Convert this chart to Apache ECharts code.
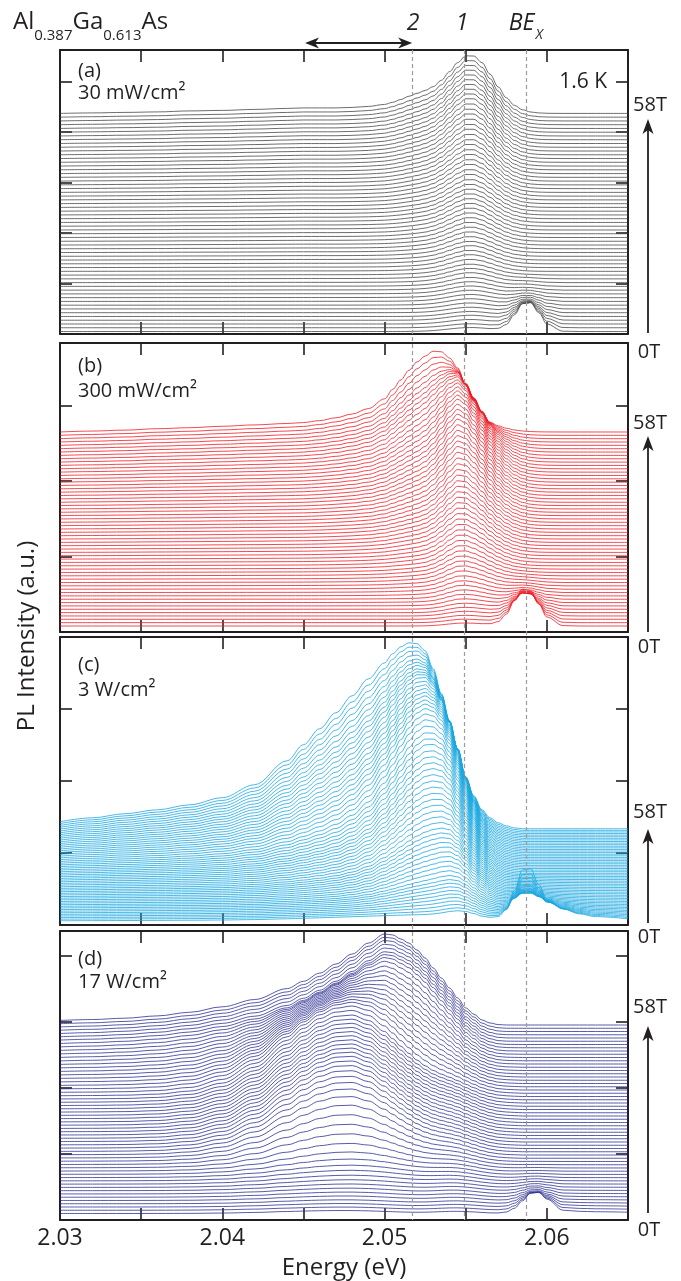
<!DOCTYPE html>
<html><head><meta charset="utf-8">
<script src="https://cdn.jsdelivr.net/npm/echarts@6/dist/echarts.min.js"></script>
<style>html,body{margin:0;padding:0;background:#fff}#c{width:681px;height:1281px}</style>
</head><body><div id="c"></div>
<script>
// ---------------- DATA ----------------
const energyEV = [2.030,2.032,2.034,2.036,2.038,2.040,2.042,2.044,2.045,2.046,2.047,2.048,2.049,2.050,2.0505,2.051,2.0515,2.052,2.0525,2.053,2.0535,2.054,2.0545,2.055,2.0555,2.056,2.0565,2.057,2.0575,2.058,2.0585,2.059,2.0595,2.060,2.061,2.062,2.063,2.065];
const fieldsT = [0,1,2,3,4,5,6,7,8,9,10,11,12,13,14,15,16,17,18,19,20,21,22,23,24,25,26,27,28,29,30,31,32,33,34,35,36,37,38,39,40,41,42,43,44,45,46,47,48,49,50,51,52,53,54,55,56,57,58];
const energyTickLabels = ['2.03','2.04','2.05','2.06'];
const lineMarksEV = [2.0517, 2.0549, 2.0587];

// (a) 30 mW/cm2 : line shapes on energyEV and their amplitude at each field
const aPeak1Shape = [0,0,0,0,0,0,0,0,0,0,0,0,0,0,0.002,0.007,0.02,0.053,0.12,0.238,0.416,0.633,0.841,0.976,0.989,0.876,0.677,0.457,0.27,0.139,0.0625,0.025,0.0085,0.0025,0,0,0,0];
const aShoulderShape = [0,0.5,1,1.5,2.5,3,4,5,5.5,5.5,5.5,6,7,9,11,13.5,16,17,16,13,9,5,2,1,0,0,0,0,0,0,0,0,0,0,0,0,0,0];
const aBexShape = [0,0,0,0,0,0,0,0,0,0,0,0,0,0,0,0,0,0,0,0,0,0,0,0,0,0,0.006,0.045,0.197,0.54,0.918,0.962,0.626,0.25,0.01,0,0,0];
const aPeak1Amp = [4,4,4.5,5,5,5.5,6,6.5,7,7.5,8,8.5,9,10,10.5,11,12,13,13.5,14.5,15,16,17,18,19,20,21,22,23,24,25,26,27,28,29.5,30.5,32,33,34.5,35.5,37,38,39.5,41,42,43.5,45,46,47.5,49,50,51,52,53,54,55,56,57,58];
const aShoulderAmp = [0,0,0,0,0,0.005,0.01,0.015,0.02,0.025,0.03,0.04,0.045,0.05,0.06,0.07,0.08,0.09,0.1,0.11,0.125,0.14,0.15,0.16,0.175,0.19,0.2,0.22,0.235,0.25,0.27,0.285,0.3,0.32,0.34,0.36,0.38,0.4,0.42,0.44,0.46,0.48,0.5,0.525,0.55,0.575,0.6,0.625,0.65,0.675,0.7,0.73,0.76,0.79,0.82,0.86,0.9,0.95,1.0];
const aBexAmp = [30,26,22.5,19,15.5,12.5,10,8,6,4.5,3.5,2.5,2,1.5,1,0.5,0,0,0,0,0,0,0,0,0,0,0,0,0,0,0,0,0,0,0,0,0,0,0,0,0,0,0,0,0,0,0,0,0,0,0,0,0,0,0,0,0,0,0];

// (b) 300 mW/cm2
const bPeak1Shape = [0,0,0,0,0,0,0,0,0,0,0,0,0,0,0,0,0.004,0.017,0.0625,0.176,0.389,0.677,0.926,0.998,0.926,0.772,0.578,0.389,0.236,0.128,0.0625,0.027,0.011,0.004,0,0,0,0];
const bBroadShape = [0,0.012,0.024,0.042,0.055,0.073,0.091,0.109,0.121,0.146,0.182,0.23,0.30,0.425,0.546,0.667,0.79,0.894,0.96,1.0,0.948,0.81,0.632,0.40,0.21,0.092,0.007,0,0,0,0,0,0,0,0,0,0,0];
const bBexShape = [0,0,0,0,0,0,0,0,0,0,0,0,0,0,0,0,0,0,0,0,0,0,0,0,0,0,0.016,0.085,0.29,0.657,0.966,0.926,0.578,0.236,0.011,0,0,0];
const bPeak1Amp = [3,3.5,4,4.7,5.3,6,7,8,9,10,11,12.4,13.8,15.2,16.6,18,19.6,21.2,22.8,24.4,26,27.6,29.2,30.8,32.4,34,35.6,37.2,38.8,40.4,42,43.6,45.2,46.8,48.4,50,51.2,52.4,53.6,54.8,56,56.5,57,57.5,58,57.5,57,56,55,53,51,48,45,41,36,31,26,21,16];
const bBroadAmp = [0,0,0,0,0,0.2,0.4,0.7,1,1.5,2,2.5,3,3.5,4,4.5,5,5.7,6.5,7.2,8,9,10,11,12,13,14,15,16,17.2,18.5,19.7,21,22.5,24,25.5,27,28.5,30,31.7,33.5,35.2,37,39,41,43,45,47.5,50,52.5,55,57,59,61,63.5,66.5,70,74,78];
const bBexAmp = [38,33,28.5,24,20,16.5,13,10.5,8,6,4.5,3.5,2.5,2,1.5,1,0.5,0.3,0,0,0,0,0,0,0,0,0,0,0,0,0,0,0,0,0,0,0,0,0,0,0,0,0,0,0,0,0,0,0,0,0,0,0,0,0,0,0,0,0];

// (c) 3 W/cm2
const cMainShape = [0.038,0.059,0.081,0.102,0.129,0.167,0.237,0.366,0.452,0.538,0.624,0.715,0.806,0.892,0.941,0.978,1.0,0.995,0.957,0.86,0.726,0.58,0.43,0.28,0.177,0.102,0.059,0.032,0.016,0.005,0,0,0,0,0,0,0,0];
const cMidShape = [0,0,0,0,0,0,0,0,0.002,0.007,0.024,0.07,0.167,0.34,0.45,0.575,0.70,0.82,0.915,0.978,1.0,0.935,0.763,0.544,0.34,0.184,0.087,0.036,0.013,0.004,0,0,0,0,0,0,0,0];
const cPeak1Shape = [0,0,0,0,0,0,0,0,0,0,0,0,0,0,0,0,0.008,0.031,0.096,0.238,0.47,0.753,0.96,0.982,0.80,0.528,0.277,0.117,0.039,0.011,0,0,0,0,0,0,0,0];
const cBexShape = [0,0,0,0,0,0,0,0,0,0,0,0,0,0,0,0,0,0,0,0,0,0,0,0,0,0,0.02,0.06,0.2,0.55,0.93,0.95,0.66,0.4,0.22,0.13,0.08,0.04];
const cMainAmp = [6,6.3,6.6,7,7.4,7.8,8.2,8.7,9.2,9.6,10,10.8,11.6,12.5,13.5,14.5,15.5,16.6,17.7,18.8,20,21.8,23.6,25.5,27.5,29.5,31.5,33.7,35.8,38,40,43,46,49,52.5,56,60,65,70,75,80,85,90,95,100,105.5,111,116.5,122,128,133.5,139,145,151.5,158,165,172,179,186];
const cMidAmp = [0,1,2.5,4,5.5,7,8.5,10,11.5,13,15,17.5,20,22.5,25,27.5,30,32.5,35,37.5,40,43,46,49,52,55,58,61,64,67,70,72,74,76,78,79,80,80.5,80.5,80,79,77,74.5,72,69,65.5,62,58.5,55,50,45,40,35,29,23,17.5,12,6,0];
const cPeak1Amp = [8,8.5,9,9.5,10,10.5,11,11.5,12,12.5,13,13.5,14,14.3,14.6,14.8,15,14.8,14.5,14.2,14,13.5,13,12.5,12,11.2,10.5,9.7,9,8.2,7.5,6.7,6,5.2,4.5,3.7,3,2.2,1.5,0.7,0,0,0,0,0,0,0,0,0,0,0,0,0,0,0,0,0,0,0];
const cBexAmp = [55,48,42,37,32,28,24,21,18,15.5,13,11,9.5,8,7,6,5,4.2,3.5,3,2.5,2.2,2,1.7,1.5,1.2,1,0.7,0.5,0.2,0,0,0,0,0,0,0,0,0,0,0,0,0,0,0,0,0,0,0,0,0,0,0,0,0,0,0,0,0];

// (d) 17 W/cm2
const dHighShape = [0.05,0.06,0.075,0.1,0.14,0.2,0.28,0.4,0.48,0.57,0.67,0.78,0.9,1.0,0.99,0.945,0.90,0.824,0.736,0.626,0.516,0.407,0.297,0.187,0.12,0.055,0.022,0.005,0,0,0,0,0,0,0,0,0,0];
const dLowShape = [0,0.0003,0.002,0.011,0.046,0.145,0.355,0.657,0.807,0.926,0.991,0.986,0.88,0.70,0.60,0.5,0.405,0.318,0.243,0.18,0.13,0.092,0.0625,0.042,0.027,0.017,0.011,0.006,0.004,0.002,0,0,0,0,0,0,0,0];
const dPeak1Shape = [0,0,0,0,0,0,0,0,0,0,0,0,0,0,0,0.023,0.0625,0.146,0.29,0.5,0.735,0.926,1.0,0.926,0.735,0.5,0.29,0.146,0.0625,0.023,0,0,0,0,0,0,0,0];
const dBexShape = [0,0,0,0,0,0,0,0,0,0,0,0,0,0,0,0,0,0,0,0,0,0,0,0,0,0,0,0.011,0.0625,0.236,0.578,0.926,0.966,0.657,0.15,0.1,0.08,0.06];
const dHighAmp = [0,0,0,0.2,0.5,0.8,1.2,1.6,2,2.5,3,3.5,4,4.5,5,5.5,6,6.5,7,7.5,8,8.5,9,9.5,10,10.5,11,11.5,12,12.5,13,13.5,14,14.5,15,15.5,16,19,23,27.5,32,37,42,47,52,57,62,67,72,77,82,86,88.5,89.5,90,90.5,91,91,91];
const dLowAmp = [3,3.2,3.5,3.8,4.2,4.6,5,5.6,6.3,7.2,8.5,10,12.5,16,21,27,33,39,45,50,54,57,59.5,61.5,63,64,65,65.5,66,66.5,67,67.5,68,68.5,69,69.5,70,69,67,64,60,55.5,51,46,41,36,31,26,21,16,11,6,2,0,0,0,0,0,0];
const dPeak1Amp = [2,2.2,2.4,2.6,2.8,3,3.2,3.4,3.6,3.8,4,4.3,4.6,4.9,5.2,5.5,5.8,6.1,6.4,6.7,7,7.1,7.2,7.3,7.4,7.5,7.6,7.7,7.8,7.9,8,7.8,7.6,7.4,7.2,7,6.8,6.6,6.4,6.2,6,5.7,5.4,5.1,4.8,4.5,4.2,3.9,3.6,3.3,3,2.6,2.2,1.9,1.5,1.1,0.8,0.4,0];
const dBexAmp = [22,18.5,15.5,12.5,10,8,6.5,5,4,3,2.3,1.7,1.2,0.8,0.5,0.3,0.15,0,0,0,0,0,0,0,0,0,0,0,0,0,0,0,0,0,0,0,0,0,0,0,0,0,0,0,0,0,0,0,0,0,0,0,0,0,0,0,0,0,0];

// ---------------- CHART ----------------
const FONT = '"Open Sans","Noto Sans",sans-serif';
const INK = '#231f20';
const panels = [
  {label:'(a)', power:'30 mW/cm²', color:'#474747', top:50, height:284, yMax:284, yTick:50.5, offset0:2.5, step:3.76,
   comps:[[aPeak1Shape,aPeak1Amp],[aShoulderShape,aShoulderAmp],[aBexShape,aBexAmp]], labY:71.5, powY:93.5},
  {label:'(b)', power:'300 mW/cm²', color:'#ed1c24', top:343, height:289, yMax:289, yTick:75.5, offset0:6, step:3.345,
   comps:[[bPeak1Shape,bPeak1Amp],[bBroadShape,bBroadAmp],[bBexShape,bBexAmp]], labY:366.5, powY:391.5},
  {label:'(c)', power:'3 W/cm²', color:'#1aa7e0', top:637, height:288, yMax:288, yTick:72, offset0:4, step:1.59,
   comps:[[cMainShape,cMainAmp],[cMidShape,cMidAmp],[cPeak1Shape,cPeak1Amp],[cBexShape,cBexAmp]], labY:665.5, powY:690.5},
  {label:'(d)', power:'17 W/cm²', color:'#2e3192', top:931, height:289, yMax:289, yTick:66, offset0:6.5, step:3.25,
   comps:[[dHighShape,dHighAmp],[dLowShape,dLowAmp],[dPeak1Shape,dPeak1Amp],[dBexShape,dBexAmp]], labY:959, powY:982.5}
];

const grids=[], xAxes=[], yAxes=[], series=[];
const axisLine = {show:true, onZero:false, lineStyle:{color:INK, width:2}};
const axisTick = {show:true, inside:true, length:12, lineStyle:{color:INK, width:1.6}};
panels.forEach((p,pi)=>{
  const last = pi===panels.length-1;
  grids.push({left:60, width:568, top:p.top, height:p.height, containLabel:false, outerBoundsMode:'none'});
  xAxes.push({gridIndex:pi, type:'value', position:'bottom', min:2.03, max:2.065, interval:0.005,
    axisLine, axisTick, splitLine:{show:false},
    axisLabel:{show:last, margin:7, fontSize:23, fontFamily:FONT, color:INK,
      formatter:v=>{const s=v.toFixed(3); const t=s.slice(0,4); return (s.endsWith('0') && energyTickLabels.includes(t))?t:'';}},
    name:last?'Energy (eV)':'', nameLocation:'middle', nameGap:36,
    nameTextStyle:{fontSize:24, fontFamily:FONT, color:INK}});
  xAxes.push({gridIndex:pi, type:'value', position:'top', min:2.03, max:2.065, interval:0.005,
    axisLine, axisTick, axisLabel:{show:false}, splitLine:{show:false}});
  yAxes.push({gridIndex:pi, type:'value', position:'left', min:0, max:p.yMax, interval:p.yTick,
    axisLine, axisTick, axisLabel:{show:false}, splitLine:{show:false}});
  yAxes.push({gridIndex:pi, type:'value', position:'right', min:0, max:p.yMax, interval:p.yTick,
    axisLine, axisTick, axisLabel:{show:false}, splitLine:{show:false}});
  fieldsT.forEach((B,i)=>{
    const data = energyEV.map((e,k)=>{
      let y = p.offset0 + p.step*B;
      p.comps.forEach(([shape,amp])=>{ y += (amp[i]||0)*shape[k]; });
      return [e,y];
    });
    series.push({type:'line', name:p.label+' '+B+'T', xAxisIndex:2*pi, yAxisIndex:2*pi, data,
      symbol:'none', smooth:0.35, smoothMonotone:'x', silent:true,
      lineStyle:{color:p.color, width:0.8}});
  });
});

const chart = echarts.init(document.getElementById('c'), null, {renderer:'canvas', width:681, height:1281});
chart.setOption({animation:false, backgroundColor:'#fff', grid:grids, xAxis:xAxes, yAxis:yAxes, series});

const px = e => chart.convertToPixel({xAxisIndex:0}, e);
const g = [];
lineMarksEV.forEach(e=>{
  const x = Math.round(px(e))+0.5;
  g.push({type:'line', z:100, shape:{x1:x,y1:panels[0].top,x2:x,y2:panels[3].top+panels[3].height},
    style:{stroke:'#9b9b9b', lineWidth:1.2, lineDash:[4,3]}});
});
g.push({type:'text', z:100, x:13, y:10.5, style:{text:'{m|Al}{s|0.387}{m|Ga}{s|0.613}{m|As}', fill:INK, verticalAlign:'top',
  rich:{m:{fontSize:24, fontFamily:FONT, lineHeight:24, verticalAlign:'top', fill:INK},
        s:{fontSize:15, fontFamily:FONT, lineHeight:15, padding:[18,0,0,0], verticalAlign:'top', fill:INK}}}});
g.push({type:'text', z:100, x:px(lineMarksEV[0])+1, y:23, style:{text:'2', font:'italic 23px '+FONT, fill:INK, align:'center', verticalAlign:'middle'}});
g.push({type:'text', z:100, x:px(lineMarksEV[1])-2, y:23, style:{text:'1', font:'italic 23px '+FONT, fill:INK, align:'center', verticalAlign:'middle'}});
g.push({type:'text', z:100, x:px(lineMarksEV[2])-17, y:11.5, style:{text:'{m|BE}{s|X}', fill:INK, verticalAlign:'top',
  rich:{m:{fontSize:23, fontStyle:'italic', fontFamily:FONT, lineHeight:23, verticalAlign:'top', fill:INK},
        s:{fontSize:14, fontStyle:'italic', fontFamily:FONT, lineHeight:14, padding:[17,0,0,1], verticalAlign:'top', fill:INK}}}});
{
  const x1 = px(2.0451), x2 = px(2.0517), y = 43;
  g.push({type:'line', z:100, shape:{x1:x1+6,y1:y,x2:x2-6,y2:y}, style:{stroke:INK, lineWidth:2}});
  g.push({type:'polygon', z:100, shape:{points:[[x1,y],[x1+14,y-5.5],[x1+10,y],[x1+14,y+5.5]]}, style:{fill:INK}});
  g.push({type:'polygon', z:100, shape:{points:[[x2,y],[x2-14,y-5.5],[x2-10,y],[x2-14,y+5.5]]}, style:{fill:INK}});
}
g.push({type:'text', z:100, x:607, y:81.7, style:{text:'1.6 K', font:'21px '+FONT, fill:INK, align:'right', verticalAlign:'middle'}});
panels.forEach(p=>{
  g.push({type:'text', z:100, x:78, y:p.labY, style:{text:p.label, font:'20px '+FONT, fill:INK, verticalAlign:'middle'}});
  g.push({type:'text', z:100, x:78, y:p.powY, style:{text:p.power, font:'20px '+FONT, fill:INK, verticalAlign:'middle'}});
});
const fieldArrows = [{tip:119,bot:333,t58:105,t0:352},{tip:436,bot:632,t58:423,t0:647},{tip:829,bot:923,t58:812,t0:937},{tip:1026,bot:1213,t58:1007,t0:1230}];
fieldArrows.forEach(a=>{
  const x = 648;
  g.push({type:'line', z:100, shape:{x1:x,y1:a.bot,x2:x,y2:a.tip+10}, style:{stroke:INK, lineWidth:1.8}});
  g.push({type:'polygon', z:100, shape:{points:[[x,a.tip],[x+5.5,a.tip+15],[x,a.tip+11],[x-5.5,a.tip+15]]}, style:{fill:INK}});
  g.push({type:'text', z:100, x:650, y:a.t58, style:{text:'58T', font:'20px '+FONT, fill:INK, align:'center', verticalAlign:'middle'}});
  g.push({type:'text', z:100, x:649, y:a.t0, style:{text:'0T', font:'20px '+FONT, fill:INK, align:'center', verticalAlign:'middle'}});
});
g.push({type:'text', z:100, x:27, y:636, rotation:Math.PI/2, style:{text:'PL Intensity (a.u.)', font:'24px '+FONT, fill:INK, align:'center', verticalAlign:'middle'}});
chart.setOption({graphic:g});
</script></body></html>
